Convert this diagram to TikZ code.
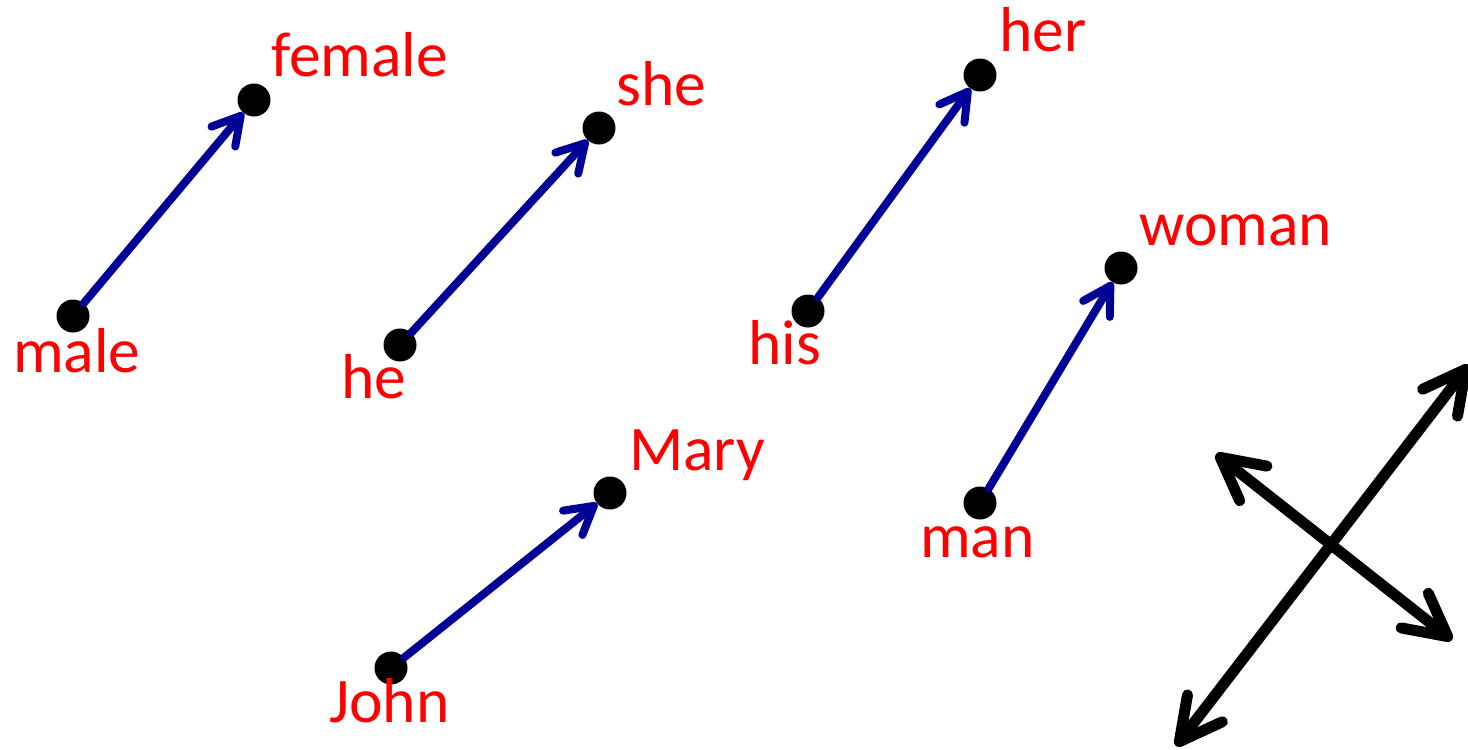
\documentclass[tikz,border=0pt]{standalone}
\usepackage{fontspec}
\setmainfont{Carlito}
\usetikzlibrary{arrows.meta}
\definecolor{lblred}{RGB}{255,0,0}
\definecolor{vecblue}{RGB}{0,0,150}
\begin{document}
\begin{tikzpicture}[x=1pt,y=-1pt,
  dot/.style={circle,fill=black,minimum width=32pt,minimum height=33pt,inner sep=0pt},
  word/.style={text=lblred,font=\fontsize{63.5}{74}\selectfont,inner sep=0pt,anchor=base west},
  vec/.style={draw=vecblue,line width=8pt,line cap=round,-{Straight Barb[length=27pt,width=31pt,round]}},
  axis/.style={draw=black,line width=11pt,line cap=round,{Straight Barb[length=42pt,width=44pt,round]}-{Straight Barb[length=42pt,width=44pt,round]}}]
\useasboundingbox (0,0) rectangle (1468,750);
% dots
\node[dot] (male) at (73,316) {};
\node[dot] (female) at (254,100) {};
\node[dot] (he) at (400,345) {};
\node[dot] (she) at (599,128) {};
\node[dot] (his) at (808,311) {};
\node[dot] (her) at (980,75) {};
\node[dot] (man) at (980,503) {};
\node[dot] (woman) at (1121,268) {};
\node[dot] (john) at (391,668) {};
\node[dot] (mary) at (610,493) {};
% labels
\node[word] (lmale) at (13,372) {male};
\node[word] (lfemale) at (271,76) {female};
\node[word] (lhe) at (341,398) {he};
\node[word] (lshe) at (616,105) {she};
\node[word] (lhis) at (748,364) {his};
\node[word] (lher) at (999,51) {her};
\node[word] (lman) at (920,557) {man};
\node[word] (lwoman) at (1139,245) {woman};
\node[word] (ljohn) at (329,722) {John};
\node[word] (lmary) at (629,470) {Mary};
% vectors
\draw[vec] (male) -- (female);
\draw[vec] (he) -- (she);
\draw[vec] (his) -- (her);
\draw[vec] (man) -- (woman);
\draw[vec] (john) -- (mary);
% axes
\coordinate (a1) at (1176,746);
\coordinate (a2) at (1469,365);
\coordinate (b1) at (1216,454);
\coordinate (b2) at (1452,640);
\draw[axis] (a1) -- (a2);
\draw[axis] (b1) -- (b2);
\end{tikzpicture}
\end{document}
